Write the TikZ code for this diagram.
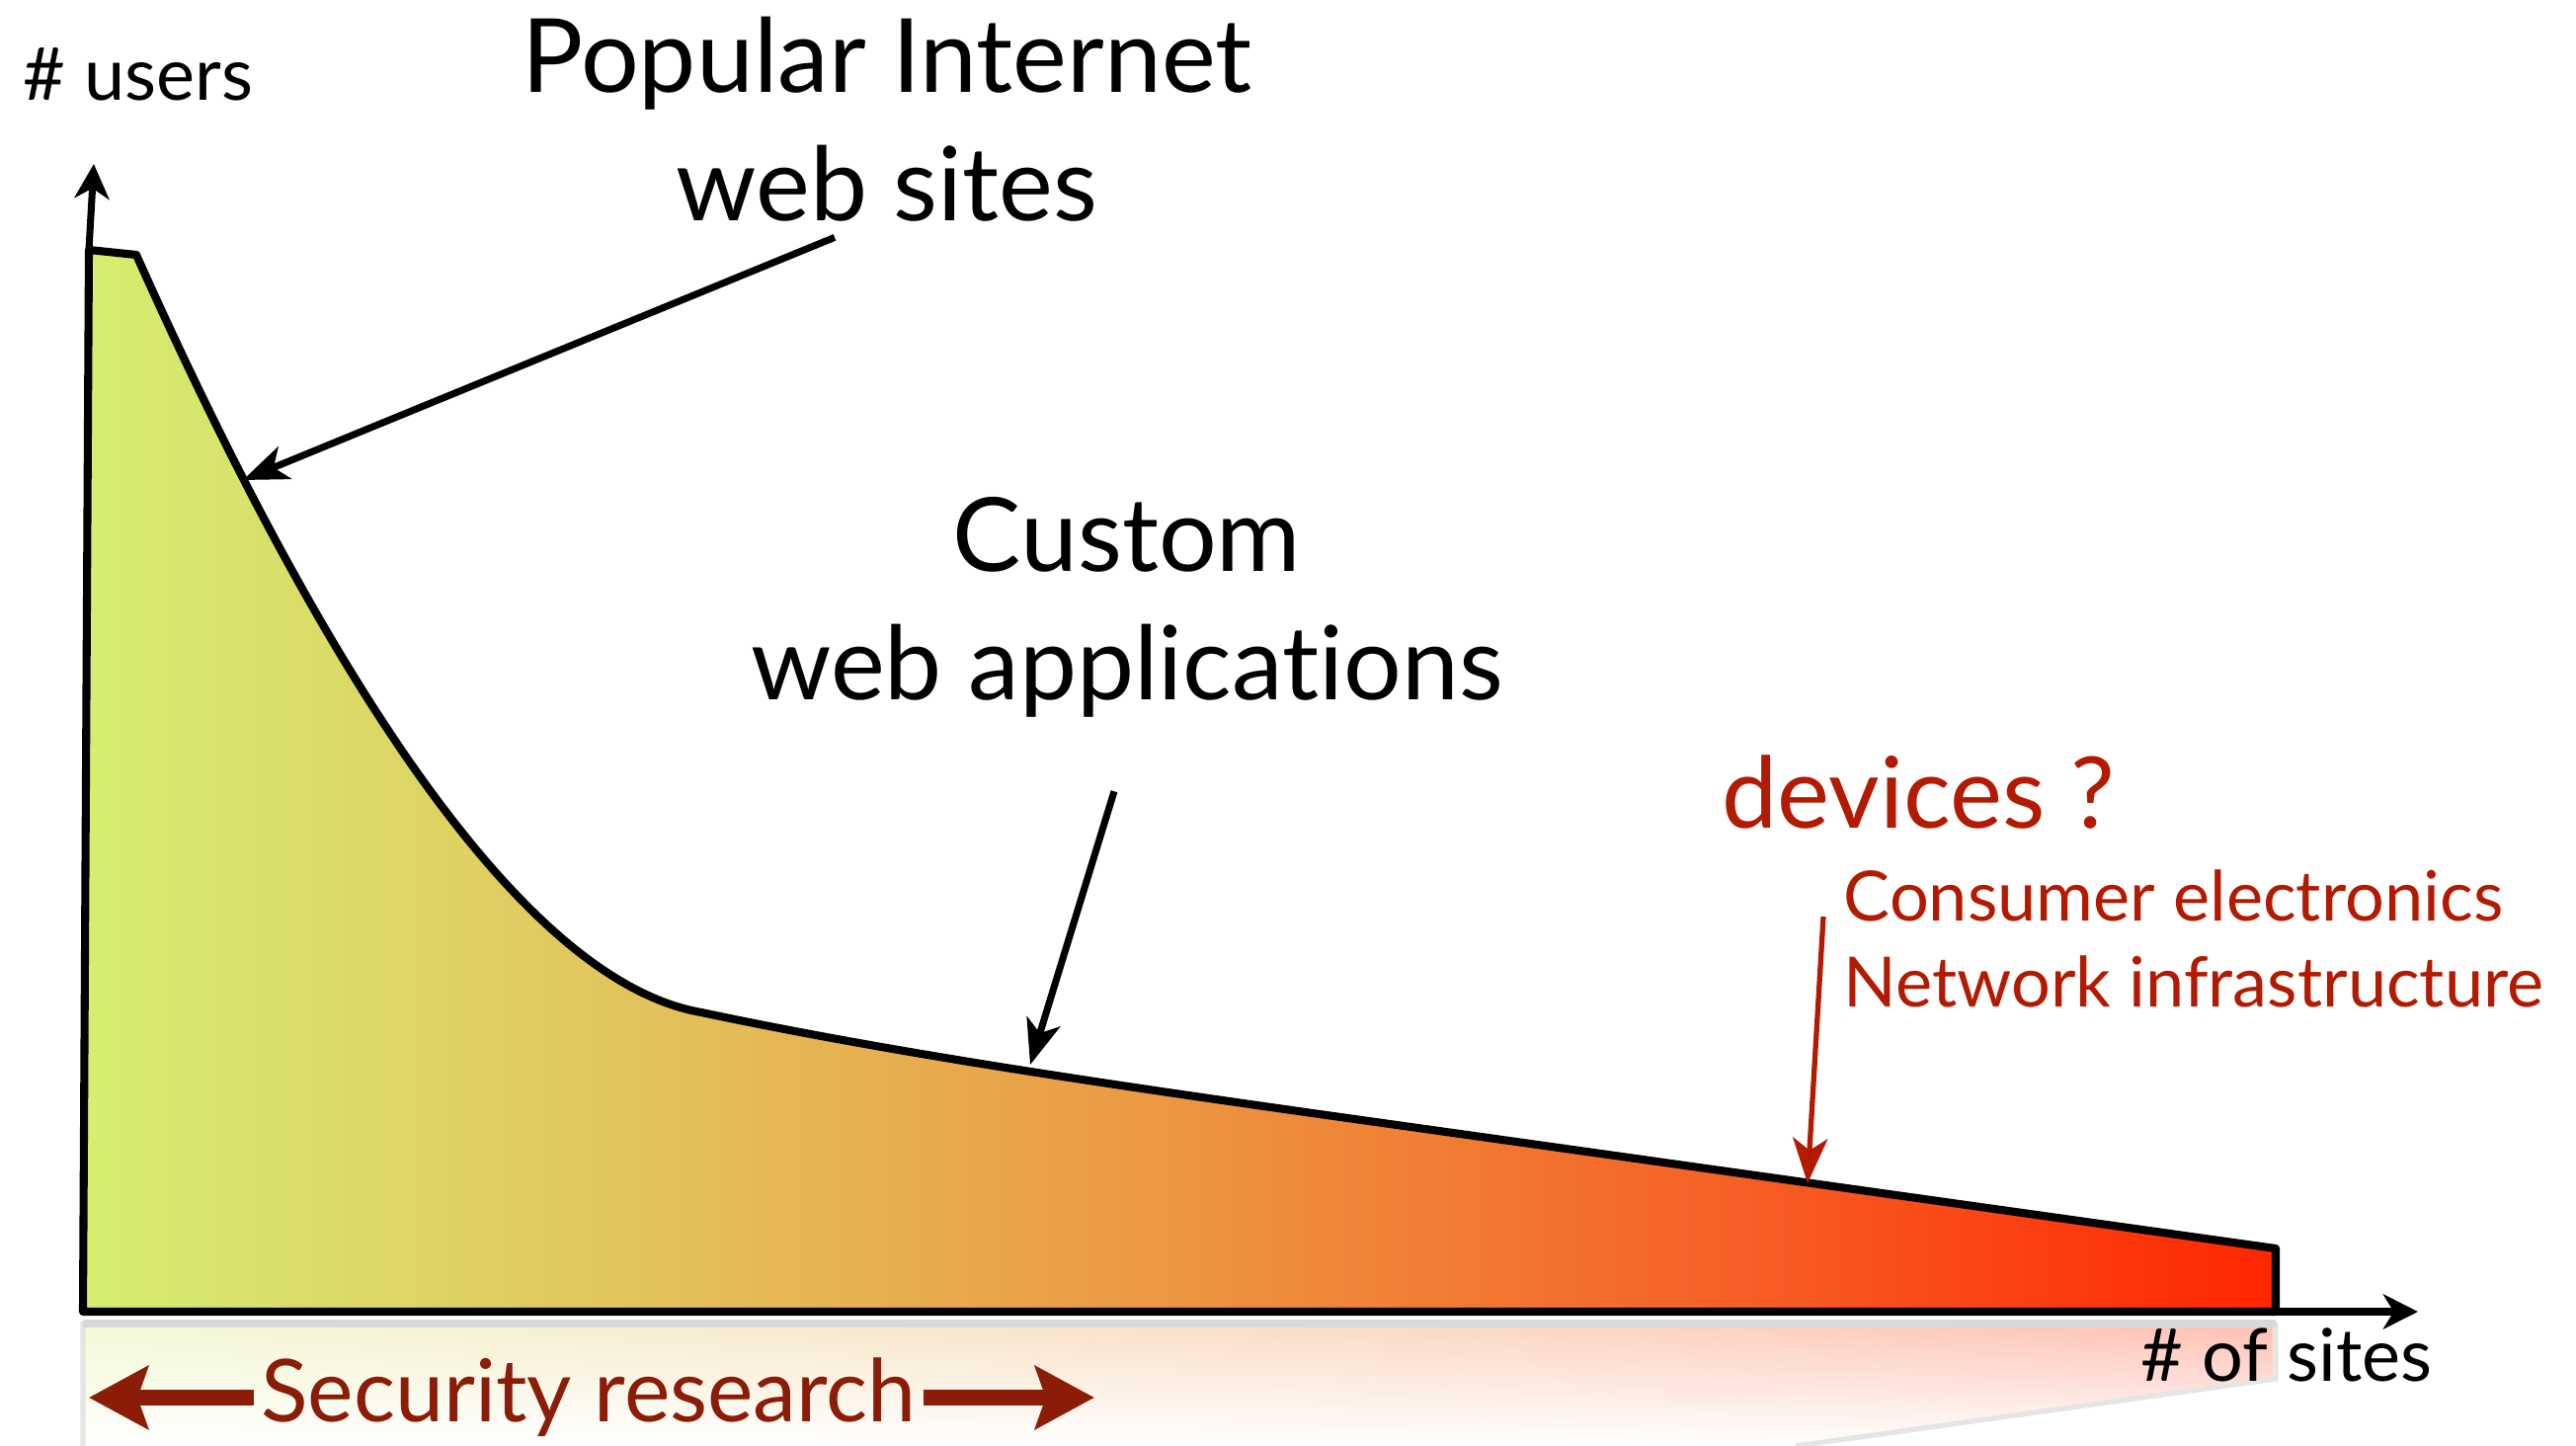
\documentclass[tikz,border=0pt]{standalone}
\usepackage{fontspec}
\setmainfont[Ligatures=NoCommon]{Lato}
\usetikzlibrary{arrows.meta,calc,fadings,positioning}

% colours of the long tail
\definecolor{tailA}{RGB}{213,238,112}
\definecolor{tailB}{RGB}{226,196,92}
\definecolor{tailC}{RGB}{236,150,64}
\definecolor{tailD}{RGB}{246,96,38}
\definecolor{tailE}{RGB}{255,38,0}
\definecolor{devred}{RGB}{178,26,2}
\definecolor{secred}{RGB}{139,28,8}

\pgfdeclarehorizontalshading{longtail}{100bp}{color(0bp)=(tailA); color(25bp)=(tailA);
  color(37.5bp)=(tailB); color(50bp)=(tailC); color(62.5bp)=(tailD);
  color(75bp)=(tailE); color(100bp)=(tailE)}

\tikzset{
  big/.style      = {font=\fontsize{29.5}{37}\selectfont, align=center, inner sep=0pt},
  axislabel/.style= {font=\fontsize{21}{25}\selectfont, inner sep=0pt},
  devices/.style  = {font=\fontsize{28.5}{34}\selectfont, text=devred, inner sep=0pt},
  kinds/.style    = {font=\fontsize{20}{24.7}\selectfont, text=devred, align=left, inner sep=0pt},
  research/.style = {font=\fontsize{25}{30}\selectfont, text=secred, inner sep=0pt},
  pointer/.style  = {line width=2pt, -{Stealth[length=13pt,width=10pt,inset=3.5pt]}},
  axis/.style     = {line width=2pt, -{Stealth[length=10pt,width=10pt,inset=3pt]}},
  fat/.style      = {line width=4.6pt, secred, -{Stealth[length=17pt,width=18pt,inset=3pt]}}
}

\begin{document}
\begin{tikzpicture}[x=0.01cm,y=-0.01cm]
\useasboundingbox (0,0) rectangle (2608,1464);

\coordinate (origin) at (84,1328);
\coordinate (corner) at (90,253);
\coordinate (ytip)   at (95,166);
\coordinate (xtip)   at (2448,1328);

% reflection under the axis
\shade[shading=longtail, opacity=0.3, path fading=south]
  (84,1338) -- (2304,1338) -- (2304,1396) -- (1818,1464) -- (84,1464) -- cycle;
\draw[gray!20, line width=1.5pt] (84,1464) -- (84,1338) (2304,1338) -- (2304,1396) -- (1818,1464);
\draw[gray!30, line width=2.5pt] (84,1340) -- (2304,1340);

% the long tail
\shadedraw[shading=longtail, line width=2.3pt, line join=round]
  (origin) -- (corner) -- (138,258)
  .. controls (300,620) and (510,990) .. (710,1025)
  .. controls (900,1065) and (1100,1095) .. (1400,1137)
  -- (2304,1264) -- (2304,1328) -- cycle;

% axes
\draw[axis] (corner) -- (ytip);
\draw[axis] (origin) -- (xtip);
\node[axislabel] (users) at (140,75) {\# users};
\node[axislabel] (sites) at (2315,1372) {\# of sites};

% labels
\node[big] (popular) at (898,121) {Popular Internet\\web sites};
\node[big] (custom) at (1141,615) {Custom\\web applications};
\node[devices, anchor=west] (devices) at (1743,802) {devices ?};
\node[kinds, anchor=west] (kinds) at (1866,950) {Consumer electronics\\Network infrastructure};

\coordinate (popTip)    at (246,486);
\coordinate (customTip) at (1043,1078);
\coordinate (devTip)    at (1830,1198);
\draw[pointer] ($(popular.south)+(-53,15)$) -- (popTip);
\draw[pointer] ($(custom.south)+(-13,74)$) -- (customTip);
\draw[pointer, devred, line width=1.5pt] ($(kinds.west)+(-20,-22)$) -- (devTip);

% security research range
\node[research] (research) at (596,1415) {Security research};
\coordinate (leftEnd)  at (90,1415);
\coordinate (rightEnd) at (1108,1415);
\draw[fat] ([xshift=-2pt]research.west) -- (leftEnd);
\draw[fat] ([xshift=2pt]research.east) -- (rightEnd);
\end{tikzpicture}
\end{document}
